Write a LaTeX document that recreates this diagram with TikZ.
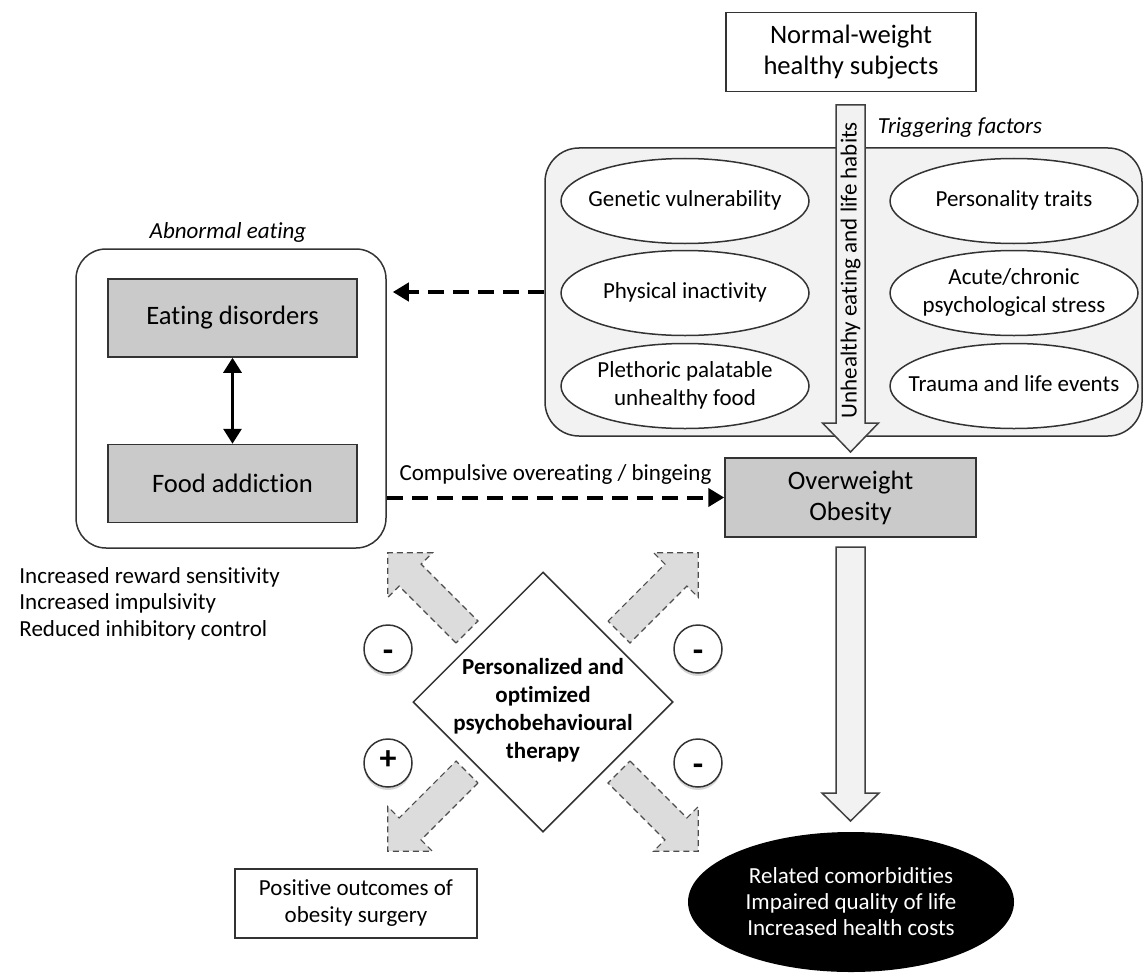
\documentclass[tikz,border=0pt]{standalone}
\usepackage{fontspec}
\setmainfont{Carlito}[Ligatures=NoCommon]
\usetikzlibrary{arrows.meta,shapes.geometric,shadows}

\definecolor{boxgray}{HTML}{CACACA}
\definecolor{paleg}{HTML}{F2F2F2}
\definecolor{dashgray}{HTML}{DCDCDC}

% centred text that does not widen its node
\newcommand\ctext[1]{\makebox[0pt]{\begin{tabular}{@{}c@{}}#1\end{tabular}}}
% style, tail, angle, body length, shaft half, head half, head length
\newcommand\blockarrow[7]{%
  \path[#1,shift={#2},rotate=#3] (0,-#5) -- (#4,-#5) -- (#4,-#6) -- ({#4+#7},0)
    -- (#4,#6) -- (#4,#5) -- (0,#5) -- cycle;}
\newcommand\less{\raisebox{-3pt}{-}}

\begin{document}
\begin{tikzpicture}[x=0.5pt,y=-0.5pt,line width=0.75pt]

  \tikzstyle{big}=[font=\fontsize{13.3}{15.5}\selectfont]
  \tikzstyle{txt}=[font=\fontsize{11.5}{14}\selectfont]
  \tikzstyle{note}=[font=\fontsize{11.5}{14}\selectfont\itshape]
  \tikzstyle{grey box}=[rectangle,draw=black!80,fill=boxgray,minimum width=124.5pt,
                        minimum height=39pt,inner sep=0pt,big,align=center]
  \tikzstyle{factor}=[ellipse,draw=black!80,fill=white,minimum width=124pt,
                      minimum height=42.5pt,inner sep=0pt,txt]
  \tikzstyle{sign}=[circle,draw=black!80,fill=white,minimum size=24pt,inner sep=0pt,
                    text height=0.6em,text depth=0pt,
                    font=\fontsize{17}{17}\selectfont\bfseries,
                    drop shadow={shadow xshift=0pt,shadow yshift=-1.5pt,fill=black!45,opacity=0.35}]
  \tikzstyle{fat arrow}=[draw=black!75,fill=paleg]
  \tikzstyle{soft arrow}=[draw=black!70,fill=dashgray,dash pattern=on 3pt off 2pt,line width=0.6pt]
  \tikzstyle{thick dash}=[line width=2pt,dash pattern=on 8pt off 4.5pt,
                          -{Triangle[length=8pt,width=9pt]}]

  \useasboundingbox (0,0) rectangle (1143,973);

  \node[rectangle,draw=black!80,minimum width=125pt,minimum height=39.5pt,big,align=center]
       (normal) at (851,52) {Normal-weight\\healthy subjects};

  % triggering factors
  \node[draw=black!80,fill=paleg,rounded corners=17pt,minimum width=298.5pt,
        minimum height=144pt] (trigger) at (843.5,292) {};
  \node[note] (triglabel) at (960,128) {Triggering factors};
  \node[factor] (genetic)     at (685,201)  {\ctext{Genetic vulnerability}};
  \node[factor] (inactive)    at (685,293)  {\ctext{Physical inactivity}};
  \node[factor] (food)        at (685,386)  {\ctext{Plethoric palatable\\unhealthy food}};
  \node[factor] (personality) at (1014,201) {\ctext{Personality traits}};
  \node[factor] (stress)      at (1014,293) {\ctext{Acute/chronic\\psychological stress}};
  \node[factor] (trauma)      at (1014,386) {\ctext{Trauma and life events}};

  \blockarrow{fat arrow}{(850.5,105)}{-90}{318}{14.5}{28}{29}
  \node[txt,rotate=90] (habits) at (850.5,270) {Unhealthy eating and life habits};

  % abnormal eating
  \node[draw=black!80,rounded corners=15pt,minimum width=155pt,minimum height=149.5pt]
       (abnormal) at (231,398.5) {};
  \node[note] (abnlabel) at (228,232) {Abnormal eating};
  \node[grey box] (disorders) at (232.5,318)   {Eating disorders};
  \node[grey box] (addiction) at (232.5,483.5) {Food addiction};
  \draw[line width=1.5pt,{Triangle[length=7.5pt,width=9pt]}-{Triangle[length=7.5pt,width=9pt]}]
       (disorders) -- (addiction);

  \node[txt,align=left,anchor=west,font=\fontsize{11.5}{13.25}\selectfont]
       (traits) at (12,603.5) {Increased reward sensitivity\\Increased impulsivity\\Reduced inhibitory control};

  \node[grey box,minimum width=125.5pt,minimum height=39.5pt] (obesity) at (850.5,497.5)
       {Overweight\\Obesity};

  \draw[thick dash,shorten >=3pt] (trigger.west) -- (trigger.west -| abnormal.east);
  \draw[thick dash] (obesity.west -| abnormal.east)
       -- node[above=2pt,txt] (binge) {Compulsive overeating / bingeing} (obesity.west);

  \blockarrow{fat arrow}{(850.5,547)}{-90}{246}{14.5}{28.5}{28}

  \node[ellipse,fill=black,text=white,minimum width=163pt,minimum height=70pt,inner sep=0pt,
        align=center,font=\fontsize{11.5}{13}\selectfont]
       (burden) at (851,902) {Related comorbidities\\Impaired quality of life\\Increased health costs};

  % therapy
  \blockarrow{soft arrow}{(467,632)}{135}{80.5}{15.5}{31.5}{31.5}
  \blockarrow{soft arrow}{(619,632)}{45}{80.5}{15.5}{31.5}{31.5}
  \blockarrow{soft arrow}{(467,772)}{-135}{80.5}{15.5}{31.5}{31.5}
  \blockarrow{soft arrow}{(619,772)}{-45}{80.5}{15.5}{31.5}{31.5}

  \node[diamond,draw=black!80,fill=white,minimum width=130pt,minimum height=130pt,inner sep=0pt]
       (therapy) at (543,702) {};
  \node[align=center,font=\fontsize{11.5}{14}\selectfont\bfseries] (therapytext) at (543,710)
       {Personalized and\\optimized\\psychobehavioural\\therapy};

  \node[sign] (minusA) at (388,649) {\less};
  \node[sign] (minusB) at (698,649) {\less};
  \node[sign] (plus)   at (388,763) {+};
  \node[sign] (minusC) at (698,763) {\less};

  \node[draw=black!80,minimum width=121pt,minimum height=34.5pt,align=center,
        font=\fontsize{11.5}{13.5}\selectfont]
       (surgery) at (356,903.5) {Positive outcomes of\\obesity surgery};

\end{tikzpicture}
\end{document}
